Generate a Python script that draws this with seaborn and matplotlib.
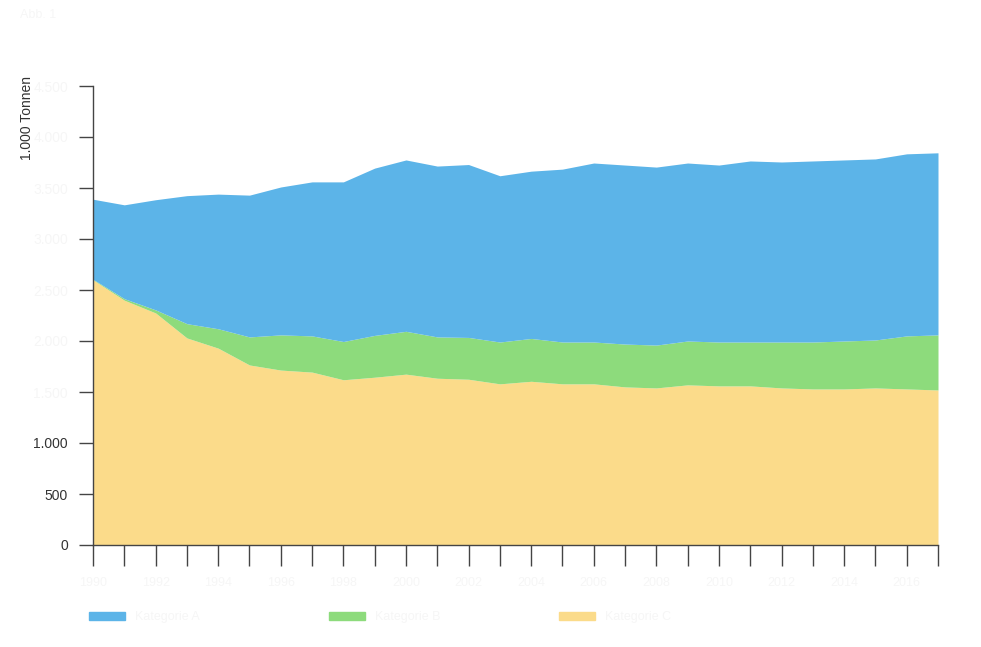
import matplotlib
matplotlib.use("Agg")
import matplotlib.pyplot as plt
from matplotlib.patches import Patch
import numpy as np
import seaborn as sns

# years (labels on the original are faded out, read as a 28-year span)
years = list(range(1990, 2018))

# 1.000 Tonnen (bottom to top)
yellow_vals = [2600, 2400, 2275, 2030, 1930, 1765, 1715, 1695, 1620, 1645,
               1675, 1635, 1625, 1580, 1605, 1580, 1580, 1550, 1540, 1570,
               1560, 1560, 1540, 1530, 1530, 1540, 1530, 1520]
green_vals = [5, 15, 30, 140, 190, 275, 345, 355, 375, 410,
              420, 405, 410, 410, 420, 410, 410, 420, 420, 430,
              430, 430, 450, 460, 470, 470, 520, 540]
blue_vals = [785, 920, 1080, 1255, 1320, 1390, 1450, 1510, 1565, 1640,
             1680, 1675, 1695, 1630, 1640, 1695, 1755, 1755, 1745, 1745,
             1735, 1775, 1765, 1775, 1775, 1775, 1785, 1785]

series_labels = ["Kategorie A", "Kategorie B", "Kategorie C"]
colors = {"blue": "#5CB4E8", "green": "#8DDB7C", "yellow": "#FBDB8A"}

y_ticks = list(range(0, 5000, 500))
y_ticklabels = [f"{v:,}".replace(",", ".") for v in y_ticks]
visible_ticklabels = {"0", "500", "1.000"}
FAINT = "#f6f6f6"

sns.set_theme(style="ticks")
plt.rcParams["font.family"] = ["Liberation Sans Narrow", "Liberation Sans", "DejaVu Sans"]

fig = plt.figure(figsize=(9.81, 6.47), dpi=100)
ax = fig.add_axes([93 / 981, 102 / 647, 845 / 981, 459 / 647])

x = np.arange(len(years))
ax.stackplot(x, yellow_vals, green_vals, blue_vals,
             colors=[colors["yellow"], colors["green"], colors["blue"]],
             linewidth=0)

ax.set_xlim(0, len(years) - 1)
ax.set_ylim(0, 4500)
ax.set_xticks(x)
ax.set_xticklabels([str(y) if i % 2 == 0 else "" for i, y in enumerate(years)],
                   color=FAINT, fontsize=9)
ax.set_yticks(y_ticks)
ax.set_yticklabels(y_ticklabels, fontsize=10)
for lbl in ax.get_yticklabels():
    lbl.set_color("#333333" if lbl.get_text() in visible_ticklabels else FAINT)

ax.tick_params(axis="y", length=10, width=1, color="#444444", pad=8)
ax.tick_params(axis="x", length=15, width=1, color="#444444", pad=8)
sns.despine(ax=ax)
for side in ["left", "bottom"]:
    ax.spines[side].set_color("#444444")
    ax.spines[side].set_linewidth(1)
ax.grid(False)

fig.text(27 / 981, 1 - 118 / 647, "1.000 Tonnen", rotation=90,
         ha="center", va="center", fontsize=10, color="#333333")
fig.text(20 / 981, 1 - 18 / 647, "Abb. 1", fontsize=9, color=FAINT)

# one legend entry per colour, placed where the original has them
legend_x = [84, 324, 554]
for lx, key, label in zip(legend_x, ["blue", "green", "yellow"], series_labels):
    leg = fig.legend([Patch(color=colors[key])], [label], loc="center left",
                     bbox_to_anchor=(lx / 981, 1 - 617 / 647),
                     frameon=False, fontsize=9, handlelength=2.9,
                     handleheight=0.6, handletextpad=0.8, borderaxespad=0)
    leg.get_texts()[0].set_color(FAINT)

fig.savefig("out.png", dpi=100)
